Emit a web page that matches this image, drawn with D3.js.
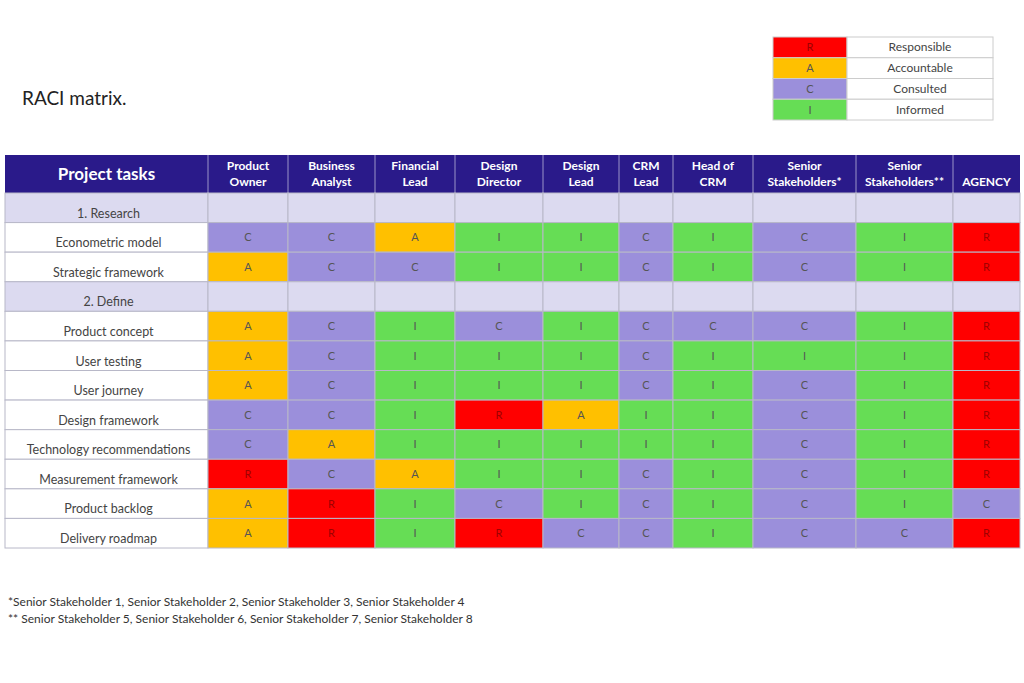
<!DOCTYPE html><html><head><meta charset="utf-8"><script src="https://d3js.org/d3.v7.min.js"></script>
<style>body{margin:0;background:#fff}text{font-family:Lato,"Open Sans",sans-serif}</style></head><body><svg id="c" width="1024" height="683"></svg><script>
const roles=["Product\nOwner","Business\nAnalyst","Financial\nLead","Design\nDirector","Design\nLead","CRM\nLead","Head of\nCRM","Senior\nStakeholders*","Senior\nStakeholders**","AGENCY"];
const colWidths=[80,87,80,88,76,54,80,103,97,67];
const tasks=["1. Research","Econometric model","Strategic framework","2. Define","Product concept","User testing","User journey","Design framework","Technology recommendations","Measurement framework","Product backlog","Delivery roadmap"];
const values=[null,"CCAIICICIR","ACCIICICIR",null,"ACICICCCIR","ACIIICIIIR","ACIIICICIR","CCIRAIICIR","CAIIIIICIR","RCAIICICIR","ARICICICIC","ARIRCCICCR"];
const legendKeys=["R","A","C","I"];
const legendLabels=["Responsible","Accountable","Consulted","Informed"];
const fill={R:"#ff0000",A:"#ffc000",C:"#9b8fdb",I:"#66dd55"};
const tcol={R:"#a00000",A:"#555",C:"#555",I:"#555"};
const svg=d3.select("#c");
const x0=5,x1=208;
const starts=[];let acc=x1;colWidths.forEach(w=>{starts.push(acc);acc+=w;});
const xs=d3.scaleOrdinal().domain(d3.range(roles.length)).range(starts);
const y=d3.scaleBand().domain(d3.range(tasks.length)).range([193,548]);
// header
svg.append("rect").attr("x",x0).attr("y",155).attr("width",acc-x0).attr("height",38).attr("fill","#2a1a8a");
svg.append("text").attr("x",(x0+x1)/2).attr("y",180).attr("text-anchor","middle").attr("fill","#fff").attr("font-size",17).attr("font-weight","bold").text("Project tasks");
roles.forEach((r,i)=>{const t=svg.append("text").attr("x",xs(i)+colWidths[i]/2).attr("text-anchor","middle").attr("fill","#fff").attr("font-size",12).attr("font-weight","bold");
 const ls=r.split("\n");ls.forEach((l,k)=>t.append("tspan").attr("x",xs(i)+colWidths[i]/2).attr("y",ls.length==1?186:170+k*16).text(l));
 svg.append("line").attr("x1",xs(i)).attr("x2",xs(i)).attr("y1",155).attr("y2",193).attr("stroke","#9a93c8").attr("stroke-width",1);});
tasks.forEach((t,j)=>{const v=values[j];const yy=y(j),h=y.bandwidth();
 svg.append("rect").attr("x",x0).attr("y",yy).attr("width",x1-x0).attr("height",h).attr("fill",v?"#fff":"#dcdaf0").attr("stroke","#b8b8c8");
 svg.append("text").attr("x",(x0+x1)/2+2).attr("y",yy+h-5).attr("text-anchor","middle").attr("fill","#444").attr("font-size",12.5).text(t);
 roles.forEach((r,i)=>{const k=v?v[i]:null;
  svg.append("rect").attr("x",xs(i)).attr("y",yy).attr("width",colWidths[i]).attr("height",h).attr("fill",k?fill[k]:"#dcdaf0").attr("stroke","#b8b8c8");
  if(k)svg.append("text").attr("x",xs(i)+colWidths[i]/2).attr("y",yy+h/2+4).attr("text-anchor","middle").attr("fill",tcol[k]).attr("font-size",11).text(k);});});
// title
svg.append("text").attr("x",22).attr("y",105).attr("font-size",19).attr("fill","#222").text("RACI matrix.");
// legend
const ly=d3.scaleBand().domain(legendKeys).range([37,120]);
legendKeys.forEach((k,i)=>{
 svg.append("rect").attr("x",773).attr("y",ly(k)).attr("width",74).attr("height",ly.bandwidth()).attr("fill",fill[k]).attr("stroke","#ccc");
 svg.append("rect").attr("x",847).attr("y",ly(k)).attr("width",146).attr("height",ly.bandwidth()).attr("fill","#fff").attr("stroke","#ccc");
 svg.append("text").attr("x",810).attr("y",ly(k)+ly.bandwidth()/2+4).attr("text-anchor","middle").attr("font-size",11).attr("fill",tcol[k]).text(k);
 svg.append("text").attr("x",920).attr("y",ly(k)+ly.bandwidth()/2+4).attr("text-anchor","middle").attr("font-size",12).attr("fill","#444").text(legendLabels[i]);});
// footnotes
svg.append("text").attr("x",8).attr("y",606).attr("font-size",12).attr("fill","#333").text("*Senior Stakeholder 1, Senior Stakeholder 2, Senior Stakeholder 3, Senior Stakeholder 4");
svg.append("text").attr("x",8).attr("y",623).attr("font-size",12).attr("fill","#333").text("** Senior Stakeholder 5, Senior Stakeholder 6, Senior Stakeholder 7, Senior Stakeholder 8");
</script></body></html>
